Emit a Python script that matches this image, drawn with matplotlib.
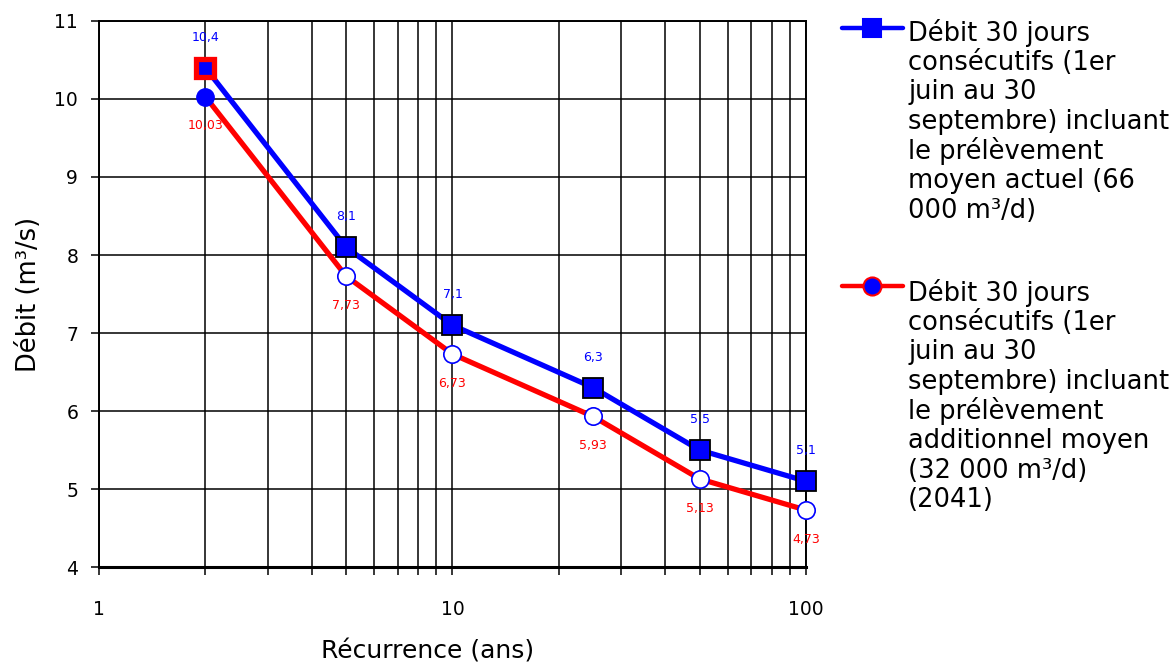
import matplotlib
matplotlib.use('Agg')
import matplotlib.pyplot as plt
from matplotlib.lines import Line2D
from matplotlib.ticker import LogLocator, FixedLocator, NullFormatter

plt.rcParams['font.family'] = ['DejaVu Sans']

# données
recurrence = [2, 5, 10, 25, 50, 100]
debit_actuel = [10.4, 8.1, 7.1, 6.3, 5.5, 5.1]
debit_additionnel = [10.03, 7.73, 6.73, 5.93, 5.13, 4.73]
labels_actuel = ['10,4', '8,1', '7,1', '6,3', '5,5', '5,1']
labels_additionnel = ['10,03', '7,73', '6,73', '5,93', '5,13', '4,73']
legende_actuel = ['Débit 30 jours', 'consécutifs (1er', 'juin au 30', 'septembre) incluant',
                  'le prélèvement', 'moyen actuel (66', '000 m³/d)']
legende_additionnel = ['Débit 30 jours', 'consécutifs (1er', 'juin au 30', 'septembre) incluant',
                       'le prélèvement', 'additionnel moyen', '(32 000 m³/d)', '(2041)']

fig = plt.figure(figsize=(11.74, 6.66), dpi=100)
ax = fig.add_axes([0.0843, 0.1486, 0.6022, 0.8199])

ax.set_xscale('log')
ax.set_xlim(1, 100)
ax.set_ylim(4, 11)

# grille
ax.grid(True, which='major', axis='both', color='black', linewidth=1.1)
ax.grid(True, which='minor', axis='x', color='black', linewidth=1.1)
ax.set_axisbelow(True)

# séries
ax.plot(recurrence, debit_additionnel, color='red', linewidth=3.8, zorder=3, clip_on=False)
ax.plot(recurrence[1:], debit_additionnel[1:], linestyle='none', marker='o', markersize=12.5,
        markerfacecolor='white', markeredgecolor='blue', markeredgewidth=1.2, zorder=4,
        clip_on=False)
ax.plot(recurrence[:1], debit_additionnel[:1], linestyle='none', marker='o', markersize=12.5,
        markerfacecolor='blue', markeredgecolor='blue', zorder=4, clip_on=False)

ax.plot(recurrence, debit_actuel, color='blue', linewidth=3.8, zorder=5, clip_on=False)
ax.plot(recurrence[1:], debit_actuel[1:], linestyle='none', marker='s', markersize=14,
        markerfacecolor='blue', markeredgecolor='black', markeredgewidth=1.3, zorder=6,
        clip_on=False)
ax.plot(recurrence[:1], debit_actuel[:1], linestyle='none', marker='s', markersize=13,
        markerfacecolor='blue', markeredgecolor='red', markeredgewidth=3.8, zorder=6,
        clip_on=False)

# étiquettes de données
for x, y, t in zip(recurrence, debit_actuel, labels_actuel):
    ax.annotate(t, (x, y), xytext=(0, 22), textcoords='offset points', ha='center',
                va='center', color='blue', fontsize=9, zorder=7)
for x, y, t in zip(recurrence, debit_additionnel, labels_additionnel):
    ax.annotate(t, (x, y), xytext=(0, -21), textcoords='offset points', ha='center',
                va='center', color='red', fontsize=9, zorder=7)

# axes
ax.xaxis.set_major_locator(FixedLocator([1, 10, 100]))
ax.set_xticklabels(['1', '10', '100'])
ax.xaxis.set_minor_locator(LogLocator(base=10, subs=range(2, 10)))
ax.xaxis.set_minor_formatter(NullFormatter())
ax.set_yticks(range(4, 12))
ax.tick_params(axis='x', which='both', direction='out', length=6, width=1.1, pad=18,
               labelsize=13.5, color='black')
ax.tick_params(axis='y', which='major', direction='out', length=6, width=1.1, pad=9,
               labelsize=13.5)
for s in ax.spines.values():
    s.set_linewidth(1.4)
    s.set_color('black')
ax.spines['bottom'].set_linewidth(2.2)
ax.set_xlabel('Récurrence (ans)', fontsize=18)
ax.xaxis.set_label_coords(0.465, -0.132)
ax.set_ylabel('Débit (m³/s)', fontsize=18.5, labelpad=9)

# légende manuelle
def legende(y_ligne, y_texte, couleur, marker, face, edge, lignes):
    fig.add_artist(Line2D([842 / 1174, 903 / 1174], [1 - y_ligne / 666] * 2,
                          color=couleur, linewidth=3.2, solid_capstyle='round'))
    fig.add_artist(Line2D([872 / 1174], [1 - y_ligne / 666], marker=marker, markersize=13,
                          markerfacecolor=face, markeredgecolor=edge, markeredgewidth=1.5))
    for i, l in enumerate(lignes):
        fig.text(908 / 1174, 1 - (y_texte + i * 29.6) / 666, l, fontsize=18.5,
                 va='center', ha='left')

legende(28, 33, 'blue', 's', 'blue', 'blue', legende_actuel)
legende(286, 293, 'red', 'o', 'blue', 'red', legende_additionnel)

fig.savefig('out.png', dpi=100)
